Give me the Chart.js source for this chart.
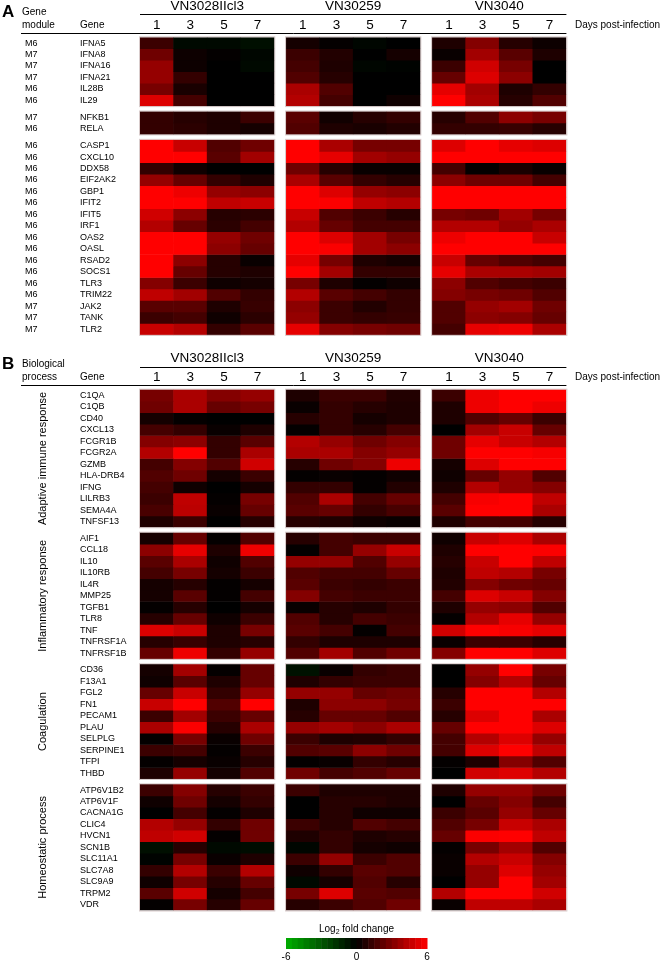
<!DOCTYPE html>
<html><head><meta charset="utf-8">
<script src="https://cdn.jsdelivr.net/npm/chart.js@4.4.0/dist/chart.umd.min.js"></script>
<style>html,body{margin:0;padding:0;background:#fff}canvas{display:block}</style>
</head><body>
<canvas id="c" width="660" height="964"></canvas>
<script>
// ---------- data ----------
const strains = ['VN3028IIcl3', 'VN30259', 'VN3040'];
const days = ['1', '3', '5', '7'];

// Panel A (gene module / gene), each row: 3 strains x 4 days
const modulesA1 = ['M6','M7','M7','M7','M6','M6'];
const genesA1 = ['IFNA5','IFNA8','IFNA16','IFNA21','IL28B','IL29'];
const valuesA1 = [
  [1.4,-0.3,-0.3,-0.5, 0.5,0.1,-0.2,0.0, 0.7,3.1,0.9,0.3],
  [2.6,0.3,0.1,-0.2, 1.4,0.8,0.0,0.5, 0.2,3.8,2.1,0.7],
  [3.5,0.3,0.0,-0.3, 1.6,0.7,-0.2,-0.1, 1.4,4.9,2.8,0.0],
  [3.5,1.2,0.0,0.0, 1.9,0.9,0.0,0.0, 2.4,5.2,3.3,0.0],
  [2.8,0.6,0.0,0.0, 4.0,1.9,0.0,0.0, 5.4,3.8,0.7,1.2],
  [5.2,1.6,0.0,0.0, 4.2,1.6,0.0,0.35, 6.0,4.0,0.9,1.9]
];
const modulesA2 = ['M7','M6'];
const genesA2 = ['NFKB1','RELA'];
const valuesA2 = [
  [1.2,0.9,0.7,1.4, 2.1,0.4,0.9,1.2, 0.9,1.9,3.3,2.8],
  [1.2,1.0,0.7,0.5, 1.9,0.7,0.6,0.8, 1.2,1.2,1.3,0.9]
];
const modulesA3 = ['M6','M6','M6','M6','M6','M6','M6','M6','M6','M6','M6','M6','M6','M6','M7','M7','M7'];
const genesA3 = ['CASP1','CXCL10','DDX58','EIF2AK2','GBP1','IFIT2','IFIT5','IRF1','OAS2','OASL','RSAD2','SOCS1','TLR3','TRIM22','JAK2','TANK','TLR2'];
const valuesA3 = [
  [6.5,4.7,1.9,2.6, 6.5,4.0,2.8,2.8, 5.2,6.2,5.4,5.2],
  [7.0,6.2,2.1,3.8, 7.0,5.4,3.8,3.5, 6.5,6.5,6.5,6.5],
  [1.2,0.35,0.0,0.0, 2.6,0.9,0.2,0.2, 1.6,0.1,0.6,0.2],
  [3.5,2.4,1.2,0.7, 4.0,2.1,1.2,0.9, 3.3,2.6,2.6,1.6],
  [7.0,5.6,3.5,3.3, 6.5,5.2,3.5,3.3, 7.0,7.0,7.0,7.0],
  [7.0,6.5,4.5,4.7, 7.0,5.9,4.5,4.2, 7.0,7.0,7.0,7.0],
  [4.9,3.3,0.9,1.0, 4.7,1.9,1.4,0.9, 2.8,2.6,3.8,2.8],
  [4.2,2.4,1.0,1.6, 4.2,2.4,1.6,1.6, 4.2,4.2,3.5,4.0],
  [7.0,7.0,3.5,2.6, 7.0,5.2,3.8,2.8, 5.6,6.2,6.2,4.7],
  [7.0,7.0,3.3,2.4, 7.0,5.9,3.8,3.3, 6.5,6.5,6.5,6.5],
  [6.5,3.3,0.9,0.2, 5.4,2.8,0.7,0.5, 4.7,2.4,1.9,1.6],
  [6.5,2.4,0.9,0.7, 6.0,3.8,1.2,1.2, 5.4,4.0,4.0,3.8],
  [3.1,1.4,0.35,0.5, 2.8,0.7,0.1,0.35, 3.3,1.9,1.6,1.4],
  [4.5,3.8,1.9,1.2, 4.2,2.1,1.6,1.2, 3.1,2.8,2.6,1.9],
  [2.1,2.1,0.7,1.3, 3.3,1.4,0.8,1.2, 1.9,3.5,3.8,2.6],
  [1.4,1.6,0.35,1.0, 3.5,1.4,1.2,1.3, 1.9,3.3,3.1,2.4],
  [4.7,4.2,1.2,2.1, 5.4,3.1,2.8,2.6, 1.6,5.4,5.6,4.0]
];

// Panel B (biological process / gene)
const processB1 = 'Adaptive immune response';
const genesB1 = ['C1QA','C1QB','CD40','CXCL13','FCGR1B','FCGR2A','GZMB','HLA-DRB4','IFNG','LILRB3','SEMA4A','TNFSF13'];
const valuesB1 = [
  [2.8,4.0,3.1,3.5, 0.7,1.4,1.4,0.8, 1.4,5.6,6.2,6.2],
  [2.6,4.0,2.4,2.8, 0.2,1.2,0.9,0.7, 0.7,5.6,6.2,5.6],
  [0.5,0.1,0.0,0.0, 0.9,1.2,0.5,0.7, 0.7,1.9,2.4,1.4],
  [1.6,1.2,0.2,0.7, 0.1,1.2,0.9,1.6, 0.0,3.8,4.7,2.4],
  [3.1,3.3,1.2,2.1, 4.2,3.5,2.6,3.1, 2.6,5.4,4.7,4.2],
  [4.2,6.2,1.2,4.0, 4.0,4.0,3.1,3.5, 2.6,6.5,6.5,5.8],
  [1.6,3.1,1.9,4.9, 0.9,2.6,3.1,5.6, 0.5,5.2,6.2,6.2],
  [1.9,2.6,0.5,1.4, 0.1,0.2,0.1,0.35, 0.35,2.4,3.5,1.9],
  [1.6,0.35,0.0,0.5, 1.2,1.2,0.1,0.8, 0.7,4.2,3.5,3.1],
  [1.4,4.5,0.1,2.8, 1.9,4.0,1.6,2.4, 1.6,5.8,6.2,4.5],
  [1.7,4.4,0.2,2.4, 2.1,2.4,1.2,1.7, 2.1,6.5,6.5,4.0],
  [0.7,1.4,0.0,0.9, 0.9,0.7,0.35,0.2, 0.7,1.6,1.6,0.9]
];
const processB2 = 'Inflammatory response';
const genesB2 = ['AIF1','CCL18','IL10','IL10RB','IL4R','MMP25','TGFB1','TLR8','TNF','TNFRSF1A','TNFRSF1B'];
const valuesB2 = [
  [0.5,2.4,0.1,1.9, 0.9,1.6,1.4,1.4, 0.35,4.7,5.2,4.0],
  [3.3,5.4,0.7,5.6, 0.1,1.6,3.5,4.7, 0.7,6.5,6.5,5.9],
  [2.1,4.0,0.35,1.9, 3.5,3.5,1.9,3.5, 0.9,4.7,6.2,4.5],
  [1.6,2.8,0.5,1.4, 1.9,1.6,1.6,2.4, 0.7,4.5,4.2,2.8],
  [0.5,0.9,0.1,0.5, 2.1,1.4,1.2,1.4, 0.8,3.1,2.6,2.4],
  [0.5,2.1,0.1,1.6, 3.1,1.6,1.4,1.4, 1.6,5.2,4.7,3.1],
  [0.1,0.9,0.0,0.5, 0.2,0.9,0.7,1.2, 0.7,3.5,3.3,1.9],
  [0.9,2.4,0.35,1.4, 1.9,0.9,1.6,1.4, 0.1,4.2,5.4,3.5],
  [5.2,4.7,0.7,2.8, 2.1,1.6,0.1,1.6, 4.9,6.5,5.8,5.4],
  [0.9,1.3,0.7,0.9, 1.2,0.7,0.7,0.7, 0.2,1.4,1.4,0.9],
  [2.4,5.6,1.2,3.5, 1.9,3.8,1.9,2.6, 3.1,6.5,6.5,5.2]
];
const processB3 = 'Coagulation';
const genesB3 = ['CD36','F13A1','FGL2','FN1','PECAM1','PLAU','SELPLG','SERPINE1','TFPI','THBD'];
const valuesB3 = [
  [0.5,3.8,0.1,2.4, -0.6,0.2,1.2,1.4, 0.0,3.5,6.2,2.8],
  [0.35,2.1,0.7,2.4, 0.7,1.2,1.4,1.4, 0.0,3.1,4.2,2.4],
  [2.4,4.7,1.2,3.5, 3.5,3.5,2.4,2.6, 0.9,6.5,6.5,4.2],
  [4.7,6.5,1.9,6.5, 0.7,3.3,3.3,2.8, 1.4,6.5,6.5,6.2],
  [1.4,3.8,1.4,2.4, 0.9,2.4,2.4,1.9, 0.9,5.2,6.5,4.0],
  [4.0,5.9,0.9,4.0, 3.5,3.8,3.3,4.0, 2.4,6.5,6.5,5.2],
  [0.1,2.8,0.2,2.6, 1.4,0.7,0.8,1.2, 1.6,4.2,5.2,3.5],
  [1.4,1.6,0.1,1.4, 1.9,2.1,3.3,2.6, 1.6,5.2,6.5,4.5],
  [0.1,0.5,0.2,0.9, 0.1,0.2,1.2,0.9, 0.1,0.7,3.1,1.9],
  [0.7,3.5,0.5,1.9, 2.6,1.6,1.9,2.4, 0.0,4.9,5.2,4.2]
];
const processB4 = 'Homeostatic process';
const genesB4 = ['ATP6V1B2','ATP6V1F','CACNA1G','CLIC4','HVCN1','SCN1B','SLC11A1','SLC7A8','SLC9A9','TRPM2','VDR'];
const valuesB4 = [
  [1.4,3.1,0.9,1.4, 1.4,0.7,0.7,0.7, 0.7,3.5,3.5,2.6],
  [0.35,2.6,0.5,1.2, 0.0,0.9,0.9,0.7, 0.0,2.4,3.1,1.6],
  [0.0,1.6,0.1,0.7, 0.0,0.9,0.35,0.35, 1.4,2.1,3.5,2.4],
  [4.2,3.5,1.2,2.6, 1.4,0.9,1.9,1.6, 1.9,2.8,4.7,4.0],
  [4.5,4.9,0.1,2.6, 0.7,1.2,0.7,0.9, 2.4,5.9,6.5,4.5],
  [-0.5,0.9,-0.3,-0.4, -0.2,1.2,0.5,0.35, 0.1,2.8,3.8,1.9],
  [-0.1,2.8,0.2,0.7, 1.4,3.5,1.4,1.9, 0.2,4.2,4.7,3.1],
  [1.2,4.2,1.4,4.2, 0.35,1.2,2.1,1.9, 0.2,3.5,5.2,3.5],
  [0.35,2.8,0.9,2.4, -0.3,0.5,1.9,0.9, 0.0,3.5,6.5,3.8],
  [2.1,4.9,0.5,1.6, 2.8,5.2,2.1,1.9, 4.2,6.5,6.5,4.9],
  [0.1,2.8,0.9,2.4, 0.9,1.4,1.9,2.6, 0.2,4.5,4.5,4.0]
];
const scaleTicks = [-6, 0, 6];

// ---------- layout (positions / sizes only) ----------
const GROUP_GAP = 0.35;          // gap between strain groups, in column units
const BLOCK_GAP = 0.47;          // gap between gene blocks, in row units
const PANEL_B_START = 30.72;     // first row of panel B, in row units
const X_MAX = 3 * 4 + 2 * GROUP_GAP;
const FONT = '"Liberation Sans", Arial, Helvetica, sans-serif';

const colX = [];
for (let g = 0; g < 3; g++) for (let d = 0; d < 4; d++) colX.push(g * (4 + GROUP_GAP) + d + 0.5);

const blocksA = [
  {left: modulesA1, genes: genesA1, values: valuesA1},
  {left: modulesA2, genes: genesA2, values: valuesA2},
  {left: modulesA3, genes: genesA3, values: valuesA3}
];
const blocksB = [
  {label: processB1, genes: genesB1, values: valuesB1},
  {label: processB2, genes: genesB2, values: valuesB2},
  {label: processB3, genes: genesB3, values: valuesB3},
  {label: processB4, genes: genesB4, values: valuesB4}
];
function place(blocks, start) {
  let y = start;
  blocks.forEach(b => { b.y0 = y; y += b.genes.length + BLOCK_GAP; });
  return y - BLOCK_GAP;
}
place(blocksA, 0);
const Y_MAX = place(blocksB, PANEL_B_START);

function heat(v) {
  const t = Math.max(-1, Math.min(1, v / 6));
  if (t >= 0) return `rgb(${Math.round(255 * t)},0,0)`;
  return `rgb(0,${Math.round(-t * 175)},0)`;
}

const datasets = [];
[...blocksA, ...blocksB].forEach(b => {
  b.values.forEach((row, i) => {
    datasets.push({
      data: row.map((v, j) => ({x: colX[j], y: [b.y0 + i, b.y0 + i + 1]})),
      backgroundColor: row.map(heat),
      borderWidth: 0,
      grouped: false,
      barPercentage: 1,
      categoryPercentage: 1
    });
  });
});

// ---------- text / frame plugin ----------
const decor = {
  id: 'decor',
  afterDatasetsDraw(chart) {
    const {ctx} = chart;
    const xs = chart.scales.x, ys = chart.scales.y;
    const px = v => xs.getPixelForValue(v);
    const py = v => ys.getPixelForValue(v);
    ctx.save();

    // block frames
    ctx.strokeStyle = '#d9cccc';
    ctx.lineWidth = 1;
    [...blocksA, ...blocksB].forEach(b => {
      for (let g = 0; g < 3; g++) {
        const x0 = px(g * (4 + GROUP_GAP)), x1 = px(g * (4 + GROUP_GAP) + 4);
        const y0 = py(b.y0), y1 = py(b.y0 + b.genes.length);
        ctx.strokeRect(x0 - 0.5, y0 - 0.5, x1 - x0 + 1, y1 - y0 + 1);
      }
    });

    ctx.fillStyle = '#000';
    ctx.textBaseline = 'middle';

    function header(top, letter, l1, l2) {
      ctx.font = 'bold 17px ' + FONT;
      ctx.textAlign = 'left';
      ctx.fillText(letter, 2, top - 25);
      ctx.font = '10px ' + FONT;
      ctx.fillText(l1, 22, top - 25);
      ctx.fillText(l2, 22, top - 12);
      ctx.fillText('Gene', 80, top - 12);
      ctx.fillText('Days post-infection', 575, top - 12);
      ctx.font = '13.5px ' + FONT;
      ctx.textAlign = 'center';
      strains.forEach((s, g) => ctx.fillText(s, px(g * (4 + GROUP_GAP) + 2), top - 31));
      colX.forEach((x, j) => ctx.fillText(days[j % 4], px(x), top - 12));
      ctx.strokeStyle = '#000';
      ctx.lineWidth = 1;
      ctx.beginPath();
      ctx.moveTo(px(0), Math.round(top - 23) + 0.5);
      ctx.lineTo(px(X_MAX), Math.round(top - 23) + 0.5);
      ctx.moveTo(21, Math.round(top - 4.6) + 0.5);
      ctx.lineTo(px(X_MAX), Math.round(top - 4.6) + 0.5);
      ctx.stroke();
    }
    header(py(0), 'A', 'Gene', 'module');
    header(py(PANEL_B_START), 'B', 'Biological', 'process');

    ctx.font = '9px ' + FONT;
    ctx.textAlign = 'left';
    blocksA.forEach(b => b.genes.forEach((g, i) => {
      const y = py(b.y0 + i + 0.5);
      ctx.fillText(b.left[i], 25, y);
      ctx.fillText(g, 80, y);
    }));
    blocksB.forEach(b => {
      b.genes.forEach((g, i) => ctx.fillText(g, 80, py(b.y0 + i + 0.5)));
      ctx.save();
      ctx.translate(43, py(b.y0 + b.genes.length / 2));
      ctx.rotate(-Math.PI / 2);
      ctx.font = '11px ' + FONT;
      ctx.textAlign = 'center';
      ctx.fillText(b.label, 0, 0);
      ctx.restore();
    });

    // colour scale
    const cbL = 286, cbR = 427, cbT = 938, cbB = 949;
    const steps = 24;
    for (let k = 0; k < steps; k++) {
      const v = scaleTicks[0] + (k + 0.5) * (scaleTicks[2] - scaleTicks[0]) / steps;
      ctx.fillStyle = heat(v);
      const xa = cbL + k * (cbR - cbL) / steps;
      ctx.fillRect(xa, cbT, (cbR - cbL) / steps + 0.5, cbB - cbT);
    }
    ctx.fillStyle = '#000';
    ctx.font = '10px ' + FONT;
    const lx = (cbL + cbR) / 2;
    const w1 = ctx.measureText('Log').width;
    ctx.font = '7px ' + FONT;
    const w2 = ctx.measureText('2').width;
    ctx.font = '10px ' + FONT;
    const w3 = ctx.measureText(' fold change').width;
    const sx = lx - (w1 + w2 + w3) / 2;
    ctx.textAlign = 'left';
    ctx.fillText('Log', sx, 929);
    ctx.font = '7px ' + FONT;
    ctx.fillText('2', sx + w1, 932);
    ctx.font = '10px ' + FONT;
    ctx.fillText(' fold change', sx + w1 + w2, 929);
    ctx.textAlign = 'center';
    scaleTicks.forEach(t => {
      const x = cbL + (t - scaleTicks[0]) / (scaleTicks[2] - scaleTicks[0]) * (cbR - cbL);
      ctx.fillText(String(t), x, 957);
    });
    ctx.restore();
  }
};

new Chart(document.getElementById('c'), {
  type: 'bar',
  data: {datasets},
  options: {
    responsive: false,
    animation: false,
    devicePixelRatio: 1,
    layout: {padding: {left: 140, right: 660 - 566.4, top: 37.3, bottom: 964 - 910.5}},
    plugins: {legend: {display: false}, tooltip: {enabled: false}},
    scales: {
      x: {type: 'linear', display: false, offset: false, min: 0, max: X_MAX,
          afterBuildTicks: s => { s.ticks = [{value: 0}, {value: X_MAX}]; }},
      y: {type: 'linear', display: false, offset: false, reverse: true, min: 0, max: Y_MAX,
          afterBuildTicks: s => { s.ticks = [{value: 0}, {value: Y_MAX}]; }}
    }
  },
  plugins: [decor]
});
</script>
</body></html>
